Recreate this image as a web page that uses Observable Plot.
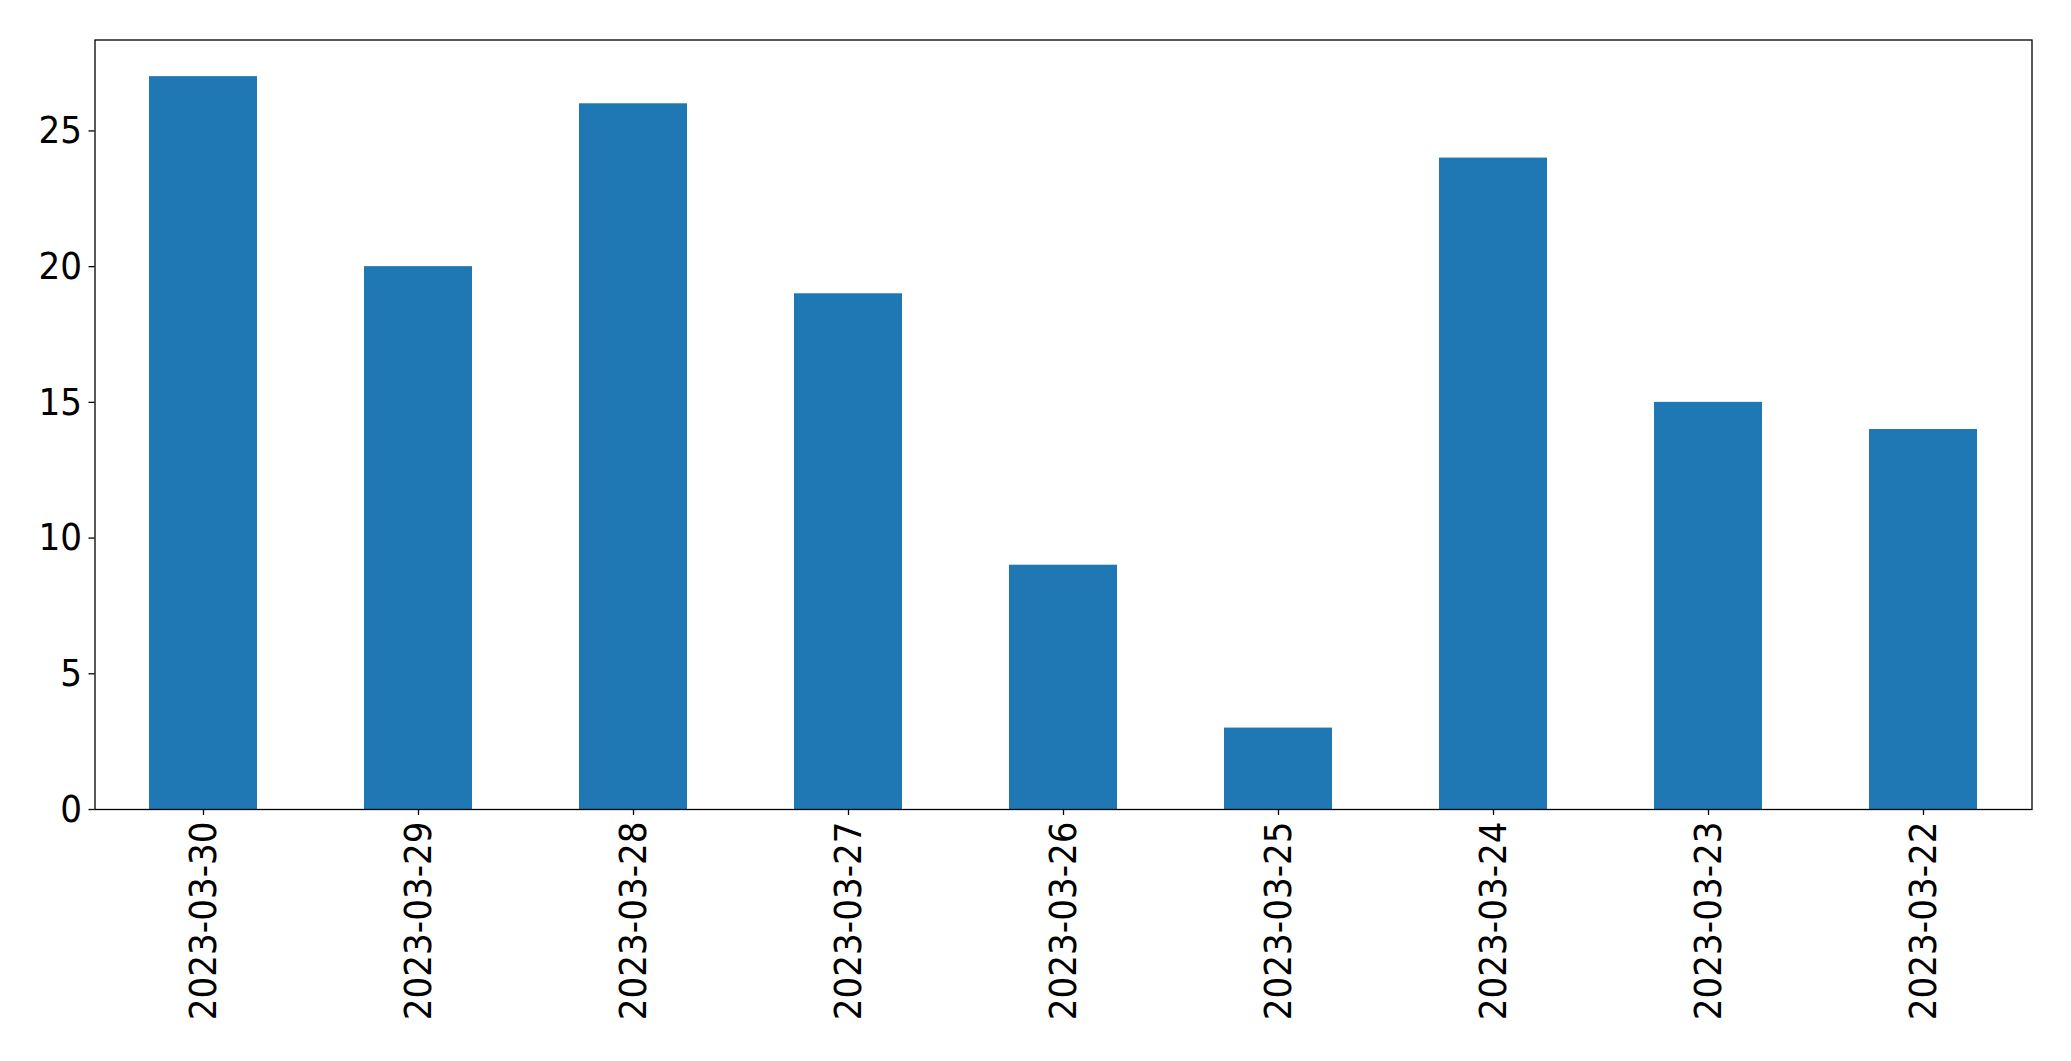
<!DOCTYPE html>
<html>
<head>
<meta charset="utf-8">
<script src="https://cdn.jsdelivr.net/npm/d3@7"></script>
<script src="https://cdn.jsdelivr.net/npm/@observablehq/plot@0.6"></script>
<style>
  html, body { margin: 0; padding: 0; background: #fff; }
  svg { display: block; }
  svg text { font-family: 'DejaVu Sans Condensed', 'DejaVu Sans', sans-serif; font-stretch: condensed; }
</style>
</head>
<body>
<div id="chart"></div>
<script>
const dates = ["2023-03-30", "2023-03-29", "2023-03-28", "2023-03-27", "2023-03-26", "2023-03-25", "2023-03-24", "2023-03-23", "2023-03-22"];
const counts = [27, 20, 26, 19, 9, 3, 24, 15, 14];
const yTicks = [0, 5, 10, 15, 20, 25];

const data = dates.map((d, i) => ({date: d, count: counts[i]}));
const yMax = d3.max(counts) * 1.05;

const chart = Plot.plot({
  width: 2071,
  height: 1061,
  marginLeft: 94.5,
  marginRight: 39.5,
  marginTop: 39.5,
  marginBottom: 252,
  style: {fontFamily: "'DejaVu Sans Condensed', 'DejaVu Sans', sans-serif", fontSize: "38px", background: "#fff", color: "#000"},
  x: {domain: dates, paddingInner: 0.5, paddingOuter: 0.25},
  y: {domain: [0, yMax]},
  marks: [
    Plot.barY(data, {x: "date", y: "count", fill: "#1f77b4"}),
    Plot.frame({stroke: "#000", strokeWidth: 1.3}),
    Plot.axisY(yTicks, {tickSize: 6, tickPadding: 7, fontSize: 38, label: null, stroke: "#000", strokeWidth: 1.3}),
    Plot.axisX({tickSize: 6, tickPadding: 6, tickRotate: -90, fontSize: 38, label: null, stroke: "#000", strokeWidth: 1.3})
  ]
});
document.getElementById("chart").appendChild(chart);
</script>
</body>
</html>
